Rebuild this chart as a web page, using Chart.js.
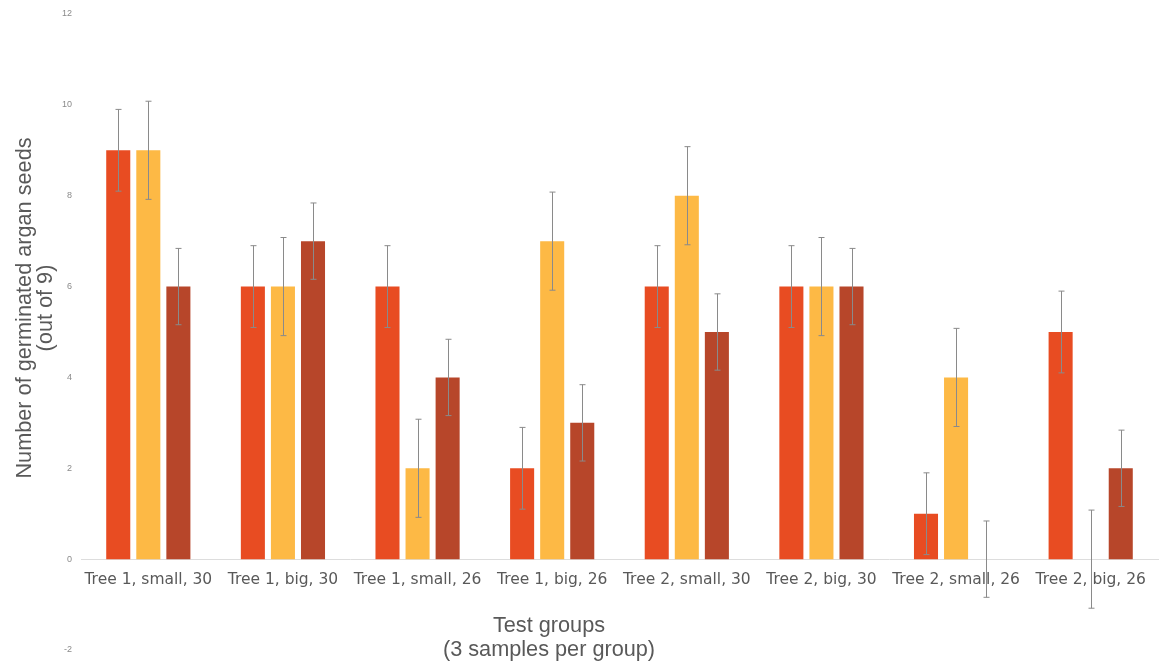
<!DOCTYPE html>
<html>
<head>
<meta charset="utf-8">
<script src="https://cdn.jsdelivr.net/npm/chart.js@4"></script>
<style>
  html, body { margin: 0; padding: 0; background: #fff; }
  #wrap { width: 1161px; height: 665px; }
</style>
</head>
<body>
<div id="wrap"><canvas id="germChart"></canvas></div>
<script>
const groups = ['Tree 1, small, 30', 'Tree 1, big, 30', 'Tree 1, small, 26', 'Tree 1, big, 26',
                'Tree 2, small, 30', 'Tree 2, big, 30', 'Tree 2, small, 26', 'Tree 2, big, 26'];
const sample1 = [9, 6, 6, 2, 6, 6, 1, 5];
const sample2 = [9, 6, 2, 7, 8, 6, 4, 0];
const sample3 = [6, 7, 4, 3, 5, 6, 0, 2];
const err1 = [0.9, 0.9, 0.9, 0.9, 0.9, 0.9, 0.9, 0.9];
const err2 = [1.08, 1.08, 1.08, 1.08, 1.08, 1.08, 1.08, 1.08];
const err3 = [0.84, 0.84, 0.84, 0.84, 0.84, 0.84, 0.84, 0.84];
const yTicks = [-2, 0, 2, 4, 6, 8, 10, 12];

// error bars drawn over each bar
const errorBars = {
    id: 'errorBars',
    afterDatasetsDraw(chart) {
        const ctx = chart.ctx;
        const y = chart.scales.y;
        ctx.save();
        ctx.strokeStyle = '#8a8a8a';
        ctx.lineWidth = 1;
        chart.data.datasets.forEach((ds, i) => {
            chart.getDatasetMeta(i).data.forEach((bar, j) => {
                const v = ds.data[j], e = ds.errors[j];
                const top = y.getPixelForValue(v + e), bot = y.getPixelForValue(v - e);
                const x = Math.round(bar.x) + 0.5;
                ctx.beginPath();
                ctx.moveTo(x, top); ctx.lineTo(x, bot);
                ctx.moveTo(x - 3, top); ctx.lineTo(x + 3, top);
                ctx.moveTo(x - 3, bot); ctx.lineTo(x + 3, bot);
                ctx.stroke();
            });
        });
        ctx.restore();
    }
};

// axis titles placed like the original
const axisTitles = {
    id: 'axisTitles',
    afterDraw(chart) {
        const ctx = chart.ctx;
        ctx.save();
        ctx.fillStyle = '#595959';
        ctx.font = '21.7px "Liberation Sans", Arial, sans-serif';
        ctx.textAlign = 'center';
        ctx.textBaseline = 'middle';
        ctx.fillText('Test groups', 549, 626);
        ctx.fillText('(3 samples per group)', 549, 650);
        ctx.translate(25, 308);
        ctx.rotate(-Math.PI / 2);
        ctx.fillText('Number of germinated argan seeds', 0, 0);
        ctx.fillText('(out of 9)', 0, 21);
        ctx.restore();
    }
};

new Chart(document.getElementById('germChart'), {
    type: 'bar',
    data: {
        labels: groups,
        datasets: [
            { label: 'Sample 1', data: sample1, errors: err1, backgroundColor: '#E84C22' },
            { label: 'Sample 2', data: sample2, errors: err2, backgroundColor: '#FDB945' },
            { label: 'Sample 3', data: sample3, errors: err3, backgroundColor: '#B7462A' }
        ]
    },
    options: {
        responsive: true,
        maintainAspectRatio: false,
        animation: false,
        categoryPercentage: 0.67,
        barPercentage: 0.8,
        layout: { padding: { top: 14, bottom: 15, right: 3 } },
        plugins: { legend: { display: false }, tooltip: { enabled: false } },
        scales: {
            x: {
                position: { y: 0 },
                grid: { display: false },
                border: { color: '#dddddd' },
                ticks: { color: '#595959', font: { family: 'DejaVu Sans', size: 15.5 }, padding: 4, maxRotation: 0 }
            },
            y: {
                min: -2, max: 12,
                afterBuildTicks: (s) => { s.ticks = yTicks.map(v => ({ value: v })); },
                afterFit: (s) => { s.width = 81; },
                grid: { display: false },
                border: { display: false },
                ticks: { color: '#8a8a8a', font: { family: 'Liberation Sans', size: 9 }, padding: 1 }
            }
        }
    },
    plugins: [errorBars, axisTitles]
});
</script>
</body>
</html>
